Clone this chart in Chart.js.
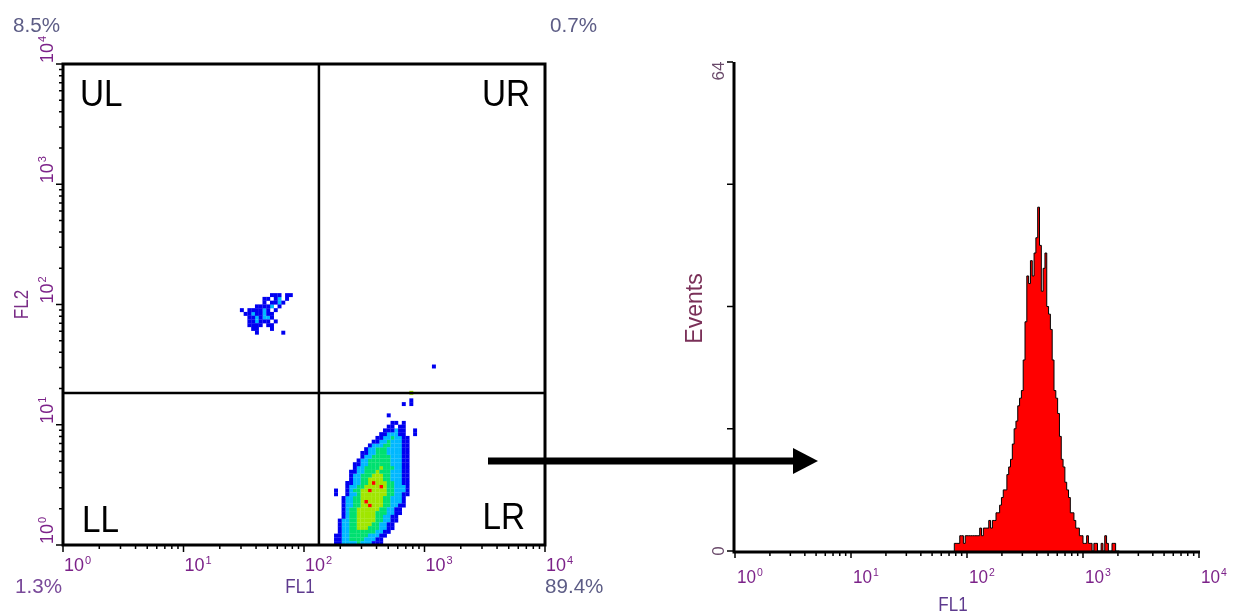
<!DOCTYPE html>
<html>
<head>
<meta charset="utf-8">
<title>FL1 / FL2 quadrant plot and FL1 histogram</title>
<script src="https://cdn.jsdelivr.net/npm/chart.js@4.4.1/dist/chart.umd.min.js"></script>
<style>
  html, body { margin: 0; padding: 0; background: #fff; }
  #page { position: relative; width: 1235px; height: 615px; overflow: hidden; }
  #page canvas { position: absolute; left: 0; top: 0; }
</style>
</head>
<body>
<div id="page">
  <canvas id="dotPlot" width="1235" height="615"></canvas>
  <canvas id="histPlot" width="1235" height="615"></canvas>
</div>
<script>
// decade tick labels, drawn as 10 with a raised exponent
const decadeExponents = ["0", "1", "2", "3", "4"];
const eventTicks = [0, 16, 32, 48, 64];
const eventTickLabels = ["0", "", "", "", "64"];

// quadrant markers (FL1, FL2) and the quadrant stats
const quadFL1 = 133;
const quadFL2 = 18.4;
const quadPercents = ["8.5%", "0.7%", "1.3%", "89.4%"];

// dot plot, 32 channels per decade on both axes
// digits are density levels 1..5 (blue -> red), "." is empty
const channelsPerDecade = 32;
const densityColors = ["#0000f0", "#00b8ff", "#00e070", "#a0e600", "#ff0000"];

// main population, lower right. first string is FL2 channel 40
const lrFirstCol = 70;
const lrTopRow = 40;
const lrRows = [
  "......................4...",
  "..........................",
  "......................1...",
  "....................1.1...",
  "..........................",
  "..........................",
  "................1.........",
  "..........................",
  ".................11.1.....",
  "................11.11.....",
  "...............111211..1..",
  "..............1122211..1..",
  ".............112232211....",
  "............1122322211....",
  "...........12223322211....",
  "..........122333222211....",
  ".........1122333222211....",
  ".........1223333322211....",
  "........12233333322211....",
  ".......112233333322211....",
  ".......122333343332211....",
  "......1122333433322211....",
  "......1223334443322211....",
  "......1223344443322211....",
  ".....11223345444332211....",
  ".....12233444454332221....",
  "..1..12334454444332221....",
  "..1..12234444444332211....",
  "....12233444444332221.....",
  "....12233454444332221.....",
  "....12233445444332211.....",
  "....1233444444332211......",
  "....1233444443332211......",
  "....123344444332211.......",
  "...1223344444332211.......",
  "...122334444332211........",
  "...122334443332211........",
  "...12233333332211.........",
  "..11223333322211..........",
  "..1122333322211...........",
  "..1122223222111...........",
];

// small population, upper left. first string is FL2 channel 66
const ulFirstCol = 47;
const ulTopRow = 66;
const ulRows = [
  "........111.11",
  "......11.12.1.",
  "......1.1121..",
  "....11112.1...",
  "1.111121.1....",
  ".11211211.....",
  "..1121221.....",
  "..112111.1....",
  "..1111.11.....",
  "...11...1.....",
  "....1......1..",
];

// single events [FL1 channel, FL2 channel, level]
const strayDots = [[98, 47, 1]];

// FL1 histogram, 64 channels per decade
const histChannelsPerDecade = 64;
const histFirstChannel = 121;
const histEvents = [
  1, 1, 1, 1, 2, 2, 1, 2, 2, 2,
  2, 2, 2, 2, 2, 3, 2, 3, 3, 3,
  4, 3, 4, 4, 5, 5, 6, 7, 8, 8,
  10, 11, 12, 14, 16, 17, 19, 20, 21, 25,
  30, 36, 35, 38, 36, 39, 41, 45, 40, 34,
  37, 39, 32, 31, 29, 25, 21, 20, 18, 15,
  12, 11, 9, 8, 7, 5, 5, 4, 3, 3,
  2, 2, 1, 1, 2, 1, 1, 0, 1, 1,
  0, 0, 1, 0, 2, 1, 0, 0, 1, 1,
  0,
];

const FONT = '"Liberation Sans", Arial, sans-serif';
const tickColor = "#7c2289";
const titleColor = "#5e3a8e";

// ---- build datasets ----
const dotData = densityColors.map(() => []);
const chanToValue = (c) => Math.pow(10, (c + 0.5) / channelsPerDecade);

const addCells = (rows, firstCol, topRow) => {
  rows.forEach((row, r) => {
    [...row].forEach((ch, c) => {
      if (ch === ".") return;
      dotData[+ch - 1].push({ x: chanToValue(firstCol + c), y: chanToValue(topRow - r) });
    });
  });
};
addCells(lrRows, lrFirstCol, lrTopRow);
addCells(ulRows, ulFirstCol, ulTopRow);
strayDots.forEach(([cx, cy, lvl]) => dotData[lvl - 1].push({ x: chanToValue(cx), y: chanToValue(cy) }));

const histPoints = [];
const histX = (ch) => Math.pow(10, ch / histChannelsPerDecade);
histPoints.push({ x: histX(histFirstChannel), y: 0 });
histEvents.forEach((n, k) => histPoints.push({ x: histX(histFirstChannel + k), y: n }));
histPoints.push({ x: histX(histFirstChannel + histEvents.length), y: 0 });

// ---- text helpers ----
const drawLabel = (ctx, text, x, y, size, color, opts = {}) => {
  ctx.save();
  ctx.translate(x, y);
  if (opts.rotate) ctx.rotate(-Math.PI / 2);
  ctx.scale(opts.squeeze || 1, 1);
  ctx.font = `${size}px ${FONT}`;
  ctx.fillStyle = color;
  ctx.textAlign = opts.align || "left";
  ctx.textBaseline = "alphabetic";
  ctx.fillText(text, 0, 0);
  ctx.restore();
};

const drawPower = (ctx, exp, x, y, size, color, rotate, squeeze = 1) => {
  ctx.save();
  ctx.translate(x, y);
  if (rotate) ctx.rotate(-Math.PI / 2);
  ctx.scale(squeeze, 1);
  ctx.fillStyle = color;
  ctx.textAlign = "left";
  ctx.textBaseline = "alphabetic";
  ctx.font = `${size}px ${FONT}`;
  ctx.fillText("10", 0, 0);
  const w = ctx.measureText("10").width;
  ctx.font = `${Math.round(size * 0.62)}px ${FONT}`;
  ctx.fillText(exp, w + 1, -size * 0.38);
  ctx.restore();
};

// 1..9 x 10^n marks for a 4 decade log axis
const logMarks = [];
decadeExponents.forEach((e, k) => {
  for (let m = 1; m <= 9; m++) {
    if (k === decadeExponents.length - 1 && m > 1) break;
    logMarks.push({ v: m * Math.pow(10, +e), major: m === 1 });
  }
});

// ---- dot plot ----
const dotAxes = {
  id: "dotAxes",
  afterDatasetsDraw(chart) {
    const { ctx, chartArea: a, scales } = chart;
    const sx = scales.x, sy = scales.y;
    ctx.save();
    ctx.strokeStyle = "#000";

    // quadrant markers
    ctx.lineWidth = 2.5;
    const qx = sx.getPixelForValue(quadFL1);
    const qy = sy.getPixelForValue(quadFL2);
    ctx.beginPath();
    ctx.moveTo(qx, a.top); ctx.lineTo(qx, a.bottom);
    ctx.moveTo(a.left, qy); ctx.lineTo(a.right, qy);
    ctx.stroke();

    // frame
    ctx.lineWidth = 3;
    ctx.strokeRect(a.left, a.top, a.right - a.left, a.bottom - a.top);

    // tick marks
    ctx.lineWidth = 1.5;
    ctx.beginPath();
    logMarks.forEach((t) => {
      const x = sx.getPixelForValue(t.v);
      ctx.moveTo(x, a.bottom + 1); ctx.lineTo(x, a.bottom + (t.major ? 7 : 4));
      const y = sy.getPixelForValue(t.v);
      ctx.moveTo(a.left - 1, y); ctx.lineTo(a.left - (t.major ? 7 : 4), y);
    });
    ctx.stroke();
    ctx.restore();

    decadeExponents.forEach((e) => {
      const v = Math.pow(10, +e);
      drawPower(ctx, e, sx.getPixelForValue(v) + 1, 571, 18, tickColor, false);
      drawPower(ctx, e, 53, sy.getPixelForValue(v) - 1, 18, tickColor, true);
    });

    drawLabel(ctx, "FL1", (a.left + a.right) / 2 - 4, 593, 20, titleColor, { align: "center", squeeze: 0.85 });
    drawLabel(ctx, "FL2", 28, (a.top + a.bottom) / 2, 20, "#7a2c86", { align: "center", squeeze: 0.85, rotate: true });

    drawLabel(ctx, "UL", a.left + 17, 106, 37, "#000", { squeeze: 0.9 });
    drawLabel(ctx, "UR", a.right - 15, 106, 37, "#000", { squeeze: 0.9, align: "right" });
    drawLabel(ctx, "LL", a.left + 19, 532, 37, "#000", { squeeze: 0.9 });
    drawLabel(ctx, "LR", a.right - 20, 529, 37, "#000", { squeeze: 0.9, align: "right" });

    drawLabel(ctx, quadPercents[0], 13, 32, 20, "#5d5d86", { squeeze: 1.03 });
    drawLabel(ctx, quadPercents[1], 550, 32, 20, "#5d5d86", { squeeze: 1.03 });
    drawLabel(ctx, quadPercents[2], 15, 593, 20, "#7a4a9a", { squeeze: 1.03 });
    drawLabel(ctx, quadPercents[3], 545, 593, 20, "#5d5d86", { squeeze: 1.03 });
  },
};

new Chart(document.getElementById("dotPlot"), {
  type: "scatter",
  data: {
    datasets: densityColors.map((c, k) => ({
      data: dotData[k],
      pointStyle: "rect",
      pointRadius: 2.8,
      pointBorderWidth: 0,
      backgroundColor: c,
      borderColor: c,
    })),
  },
  options: {
    responsive: false,
    animation: false,
    events: [],
    layout: { padding: { left: 63, top: 64, right: 690, bottom: 70 } },
    plugins: { legend: { display: false }, tooltip: { enabled: false } },
    scales: {
      x: { type: "logarithmic", min: 1, max: 10000, display: false },
      y: { type: "logarithmic", min: 1, max: 10000, display: false },
    },
  },
  plugins: [dotAxes],
});

// ---- histogram ----
const histAxes = {
  id: "histAxes",
  afterDraw(chart) {
    const { ctx, chartArea: a, scales } = chart;
    const sx = scales.x, sy = scales.y;
    ctx.save();
    ctx.strokeStyle = "#000";
    ctx.lineWidth = 3;
    ctx.beginPath();
    ctx.moveTo(a.left - 1, a.top); ctx.lineTo(a.left - 1, a.bottom + 1);
    ctx.lineTo(a.right + 1, a.bottom + 1);
    ctx.stroke();

    ctx.lineWidth = 1.5;
    ctx.beginPath();
    logMarks.forEach((t) => {
      const x = sx.getPixelForValue(t.v);
      ctx.moveTo(x, a.bottom + 2); ctx.lineTo(x, a.bottom + (t.major ? 7 : 5));
    });
    eventTicks.forEach((v) => {
      const y = sy.getPixelForValue(v);
      ctx.moveTo(a.left - 2, y); ctx.lineTo(a.left - 8, y);
    });
    ctx.stroke();

    // arrow from the LR gate to the histogram
    ctx.fillStyle = "#000";
    ctx.fillRect(488, 457.5, 309, 7);
    ctx.beginPath();
    ctx.moveTo(793, 448); ctx.lineTo(818, 461); ctx.lineTo(793, 474);
    ctx.closePath();
    ctx.fill();
    ctx.restore();

    decadeExponents.forEach((e) => {
      drawPower(ctx, e, sx.getPixelForValue(Math.pow(10, +e)) + 2, 583, 18, tickColor, false, 0.95);
    });
    eventTicks.forEach((v, k) => {
      if (!eventTickLabels[k]) return;
      const y = Math.max(sy.getPixelForValue(v), a.top + 9);
      drawLabel(ctx, eventTickLabels[k], 724, y, 17, "#6a4a6a", { rotate: true, align: "center" });
    });
    drawLabel(ctx, "Events", 702, (a.top + a.bottom) / 2 + 2, 23, "#7a3058", { rotate: true, align: "center" });
    drawLabel(ctx, "FL1", 953, 611, 20, titleColor, { align: "center", squeeze: 0.85 });
  },
};

new Chart(document.getElementById("histPlot"), {
  type: "line",
  data: {
    datasets: [{
      data: histPoints,
      stepped: "after",
      fill: "origin",
      backgroundColor: "#ff0000",
      borderColor: "#000",
      borderWidth: 1,
      pointRadius: 0,
    }],
  },
  options: {
    responsive: false,
    animation: false,
    events: [],
    layout: { padding: { left: 735, top: 62, right: 36, bottom: 64 } },
    plugins: { legend: { display: false }, tooltip: { enabled: false } },
    scales: {
      x: { type: "logarithmic", min: 1, max: 10000, display: false },
      y: { type: "linear", min: 0, max: 64, display: false },
    },
  },
  plugins: [histAxes],
});
</script>
</body>
</html>
